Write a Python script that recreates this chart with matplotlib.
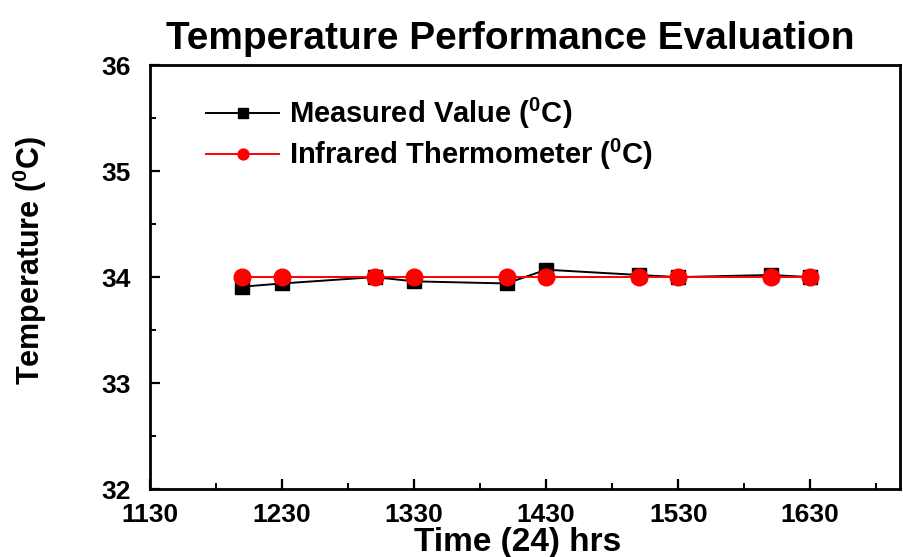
import matplotlib
matplotlib.use("Agg")
import matplotlib.pyplot as plt
from matplotlib.ticker import FixedLocator

# readings taken every half hour (24 h clock written as a number)
times = [1200, 1230, 1300, 1330, 1400, 1430, 1500, 1530, 1600, 1630]
measured = [33.91, 33.94, 34.00, 33.96, 33.94, 34.07, 34.02, 34.00, 34.02, 34.00]
infrared = [34.00, 34.00, 34.00, 34.00, 34.00, 34.00, 34.00, 34.00, 34.00, 34.00]
x_ticks = [1130, 1230, 1330, 1430, 1530, 1630]
x_minor = [1180, 1280, 1380, 1480, 1580, 1680]
y_ticks = [32, 33, 34, 35, 36]
y_minor = [32.5, 33.5, 34.5, 35.5]

FONT = ["Liberation Sans", "DejaVu Sans"]
plt.rcParams["font.family"] = FONT
plt.rcParams["font.weight"] = "bold"
plt.rcParams["mathtext.fontset"] = "custom"
plt.rcParams["mathtext.bf"] = "Liberation Sans:bold"
plt.rcParams["mathtext.rm"] = "Liberation Sans:bold"

DEG = r"($^{\mathbf{0}}$C)"

fig = plt.figure(figsize=(9.04, 5.57), dpi=100)
ax = fig.add_axes([0.166, 0.122, 0.8296, 0.761])

ax.plot(times, measured, color="black", lw=1.4, marker="s", ms=10,
        label="Measured Value " + DEG, zorder=3)
ax.plot(times, infrared, color="red", lw=1.4, marker="o", ms=12,
        label="Infrared Thermometer " + DEG, zorder=4)

ax.set_xlim(1130, 1698)
ax.set_ylim(32, 36)
ax.xaxis.set_major_locator(FixedLocator(x_ticks))
ax.xaxis.set_minor_locator(FixedLocator(x_minor))
ax.yaxis.set_major_locator(FixedLocator(y_ticks))
ax.yaxis.set_minor_locator(FixedLocator(y_minor))

ax.tick_params(which="both", direction="in", top=False, right=False)
ax.tick_params(which="major", length=7, width=1.6, labelsize=19)
ax.tick_params(axis="x", which="major", pad=10)
ax.tick_params(axis="y", which="major", pad=14)
ax.tick_params(which="minor", length=4, width=1.4)
for lab in ax.get_xticklabels() + ax.get_yticklabels():
    lab.set_fontweight("bold")
for sp in ax.spines.values():
    sp.set_linewidth(2)

ax.set_title("Temperature Performance Evaluation", fontsize=28,
             fontweight="bold", pad=12, x=0.48)
ax.set_xlabel("Time (24) hrs", fontsize=24, fontweight="bold")
ax.xaxis.set_label_coords(0.49, -0.09)
ax.set_ylabel("Temperature " + DEG, fontsize=22, fontweight="bold")
ax.yaxis.set_label_coords(-0.135, 0.54)

leg = ax.legend(loc="upper left", bbox_to_anchor=(0.04, 0.99), frameon=False,
                markerscale=0.65, handlelength=2.5, fontsize=21,
                labelspacing=0.2, handletextpad=0.35)
for t in leg.get_texts():
    t.set_fontweight("bold")

fig.savefig("out.png", dpi=100)
